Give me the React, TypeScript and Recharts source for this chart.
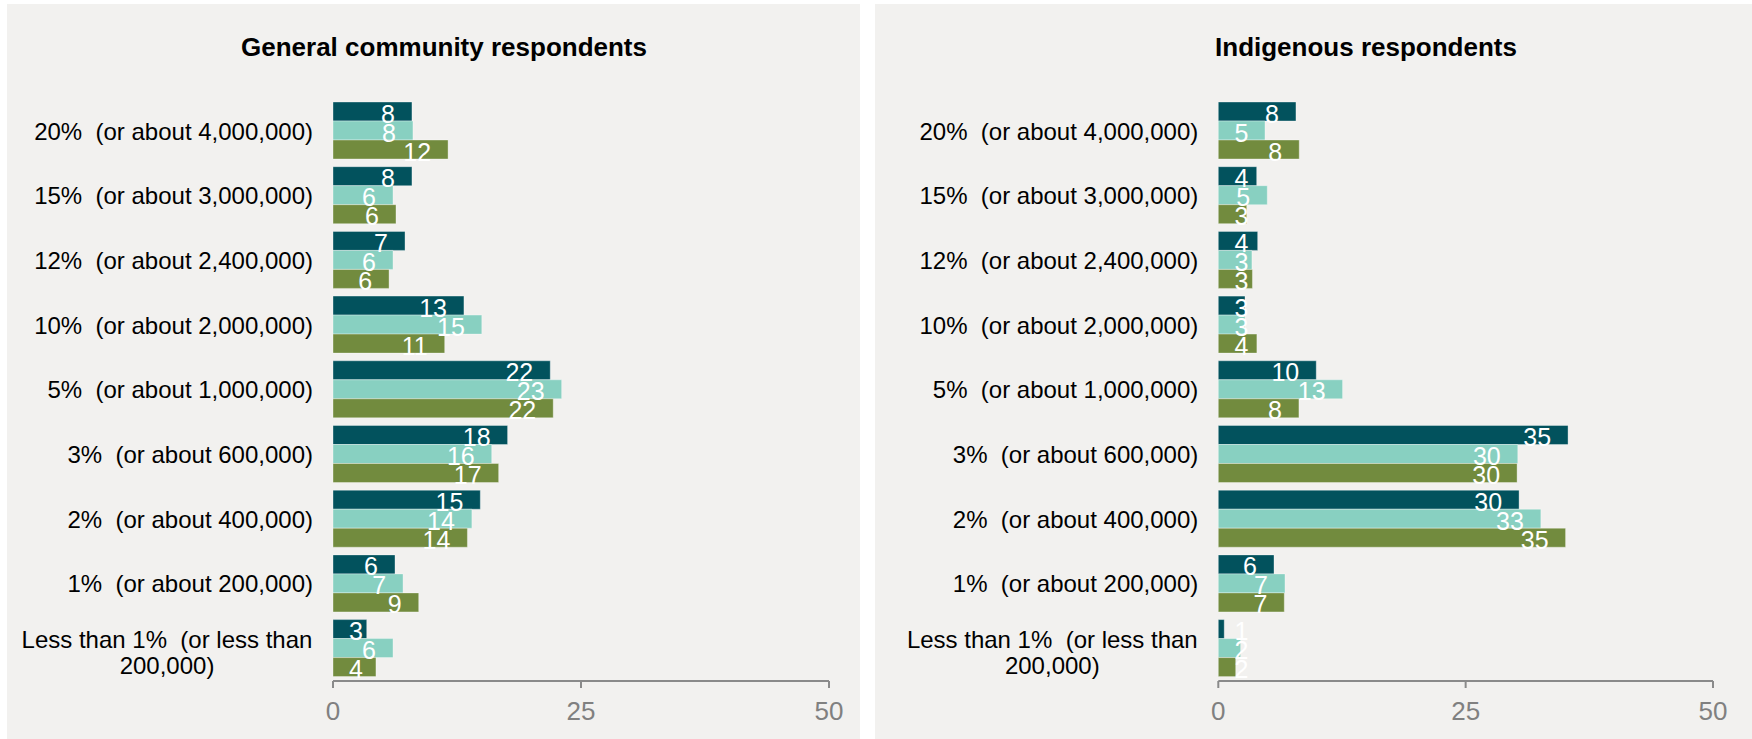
import { BarChart, Bar, XAxis, YAxis, LabelList } from "recharts";

const categories = [
    "20%  (or about 4,000,000)",
    "15%  (or about 3,000,000)",
    "12%  (or about 2,400,000)",
    "10%  (or about 2,000,000)",
    "5%  (or about 1,000,000)",
    "3%  (or about 600,000)",
    "2%  (or about 400,000)",
    "1%  (or about 200,000)",
    "Less than 1%  (or less than 200,000)",
];

// general community, three series (dark, light, olive)
const generalA = [7.96, 7.96, 7.26, 13.2, 21.9, 17.6, 14.85, 6.25, 3.4];
const generalB = [8.06, 6.05, 6.05, 15.0, 23.05, 16.0, 14.0, 7.06, 6.05];
const generalC = [11.6, 6.35, 5.65, 11.26, 22.2, 16.7, 13.55, 8.64, 4.33];

// indigenous respondents
const indigenousA = [7.85, 3.88, 3.98, 2.7, 9.9, 35.35, 30.4, 5.63, 0.6];
const indigenousB = [4.72, 4.95, 3.4, 2.7, 12.56, 30.27, 32.6, 6.74, 2.26];
const indigenousC = [8.18, 2.87, 3.45, 3.9, 8.15, 30.2, 35.1, 6.67, 1.76];

const xTicks = [0, 25, 50];
const colors = ["#02525d", "#88d0c1", "#728b3e"];
const FONT = "'Liberation Sans', Arial, sans-serif";

const buildRows = (a: number[], b: number[], c: number[]) =>
    categories.map((name, i) => ({ name, a: a[i], b: b[i], c: c[i] }));

const ValueLabel = (props: any) => {
    const { x, y, width, height, value } = props;
    const right = Math.max(x + width - 17, x + 30);
    return (
        <text
            x={right}
            y={y + height / 2 + 2}
            textAnchor="end"
            dominantBaseline="central"
            fill="#ffffff"
            fontSize={25}
            fontFamily={FONT}
        >
            {Math.round(value)}
        </text>
    );
};

const CategoryTick = (props: any) => {
    const { x, y, payload } = props;
    const label: string = payload.value;
    if (label.length > 28) {
        // wrap long label in two centered lines
        const cut = label.lastIndexOf(" ", 28);
        const lines = [label.slice(0, cut), label.slice(cut + 1)];
        return (
            <text x={x - 146} y={y} textAnchor="middle" fontSize={24} fontFamily={FONT} fill="#000" style={{ whiteSpace: "pre" }}>
                <tspan x={x - 146} dy={-9} dominantBaseline="central">{lines[0]}</tspan>
                <tspan x={x - 146} dy={26} dominantBaseline="central">{lines[1]}</tspan>
            </text>
        );
    }
    return (
        <text x={x} y={y} textAnchor="end" dominantBaseline="central" fontSize={24} fontFamily={FONT} fill="#000" style={{ whiteSpace: "pre" }}>
            {label}
        </text>
    );
};

const NumberTick = (props: any) => {
    const { x, y, payload } = props;
    return (
        <text x={x} y={y} dy="0.71em" textAnchor="middle" fontSize={26} fontFamily={FONT} fill="#808080">
            {payload.value}
        </text>
    );
};

function Panel({ title, rows, left, width, plotLeft, plotRight, titleX }: any) {
    const height = 735;
    return (
        <div style={{ position: "absolute", left, top: 4, width, height, background: "#f2f1ef" }}>
            <div
                style={{
                    position: "absolute",
                    left: titleX - 300,
                    width: 600,
                    top: 28,
                    textAlign: "center",
                    fontFamily: FONT,
                    fontWeight: "bold",
                    fontSize: 26,
                    color: "#000",
                }}
            >
                {title}
            </div>
            <BarChart
                layout="vertical"
                width={width}
                height={height}
                data={rows}
                margin={{ top: 94.7, right: width - plotRight, bottom: 0, left: 0 }}
                barCategoryGap={3.3}
                barGap={0}
            >
                <XAxis
                    type="number"
                    domain={[0, 50]}
                    ticks={xTicks}
                    height={58}
                    axisLine={{ stroke: "#8a8a8a", strokeWidth: 2 }}
                    tickLine={{ stroke: "#8a8a8a", strokeWidth: 2 }}
                    tickSize={7}
                    tickMargin={14}
                    tick={<NumberTick />}
                />
                <YAxis
                    type="category"
                    dataKey="name"
                    width={plotLeft}
                    axisLine={false}
                    tickLine={false}
                    tickSize={0}
                    tickMargin={20}
                    interval={0}
                    tick={<CategoryTick />}
                />
                {["a", "b", "c"].map((key, i) => (
                    <Bar key={key} dataKey={key} fill={colors[i]} stroke="rgba(255,255,255,0.35)" strokeWidth={1} isAnimationActive={false}>
                        <LabelList dataKey={key} content={<ValueLabel />} />
                    </Bar>
                ))}
            </BarChart>
        </div>
    );
}

export default function App() {
    return (
        <div style={{ position: "absolute", left: 0, top: 0, width: 1752, height: 739, background: "#ffffff", overflow: "hidden" }}>
            <Panel
                title="General community respondents"
                rows={buildRows(generalA, generalB, generalC)}
                left={7}
                width={853}
                plotLeft={326}
                plotRight={822}
                titleX={437}
            />
            <Panel
                title="Indigenous respondents"
                rows={buildRows(indigenousA, indigenousB, indigenousC)}
                left={875}
                width={877}
                plotLeft={343.3}
                plotRight={838}
                titleX={491}
            />
        </div>
    );
}
